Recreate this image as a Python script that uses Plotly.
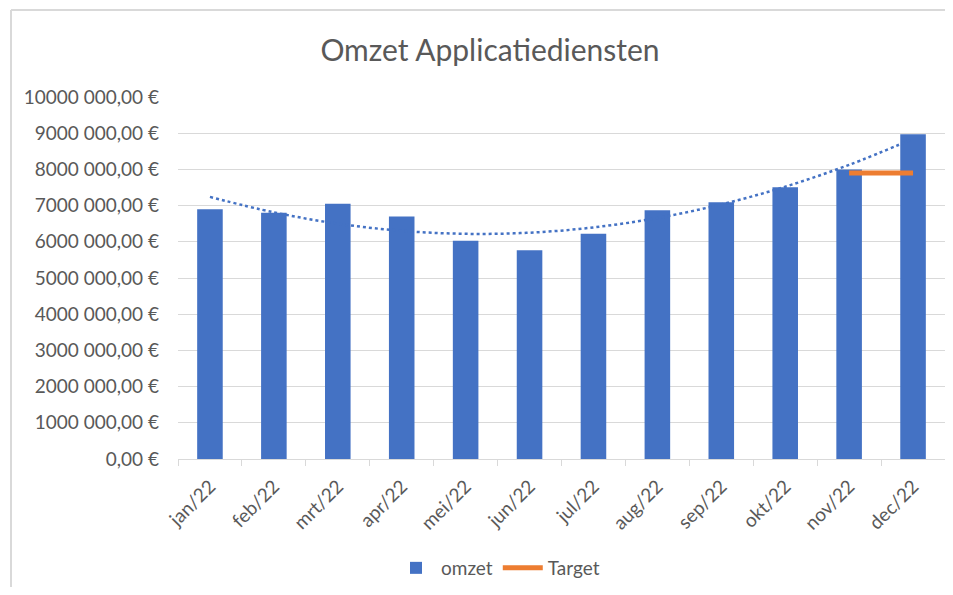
import numpy as np
import plotly.graph_objects as go

months = ["jan/22", "feb/22", "mrt/22", "apr/22", "mei/22", "jun/22",
          "jul/22", "aug/22", "sep/22", "okt/22", "nov/22", "dec/22"]
omzet = [6900000, 6800000, 7050000, 6700000, 6030000, 5770000,
         6220000, 6870000, 7090000, 7510000, 8000000, 8970000]
target = [None, None, None, None, None, None, None, None, None, None, 7900000, 7900000]
tick_vals = [0, 1000000, 2000000, 3000000, 4000000, 5000000,
             6000000, 7000000, 8000000, 9000000, 10000000]
tick_text = ["0,00 €", "1000 000,00 €", "2000 000,00 €", "3000 000,00 €",
             "4000 000,00 €", "5000 000,00 €", "6000 000,00 €", "7000 000,00 €",
             "8000 000,00 €", "9000 000,00 €", "10000 000,00 €"]

# polynomial (order 2) trendline, as Excel computes it from the omzet series
idx = np.arange(len(omzet))
coef = np.polyfit(idx, omzet, 2)
trend = np.polyval(coef, idx)

BLUE = "#4472C4"
ORANGE = "#ED7D31"
GREY = "#595959"
FONT = "Lato, Open Sans, sans-serif"

fig = go.Figure()
fig.add_trace(go.Bar(x=months, y=omzet, name="omzet", marker_color=BLUE,
                     marker_line_width=0))
fig.add_trace(go.Scatter(x=months, y=list(trend), mode="lines", showlegend=False,
                         line=dict(color=BLUE, width=2.5, dash="dot", shape="spline"),
                         hoverinfo="skip"))
fig.add_trace(go.Scatter(x=months, y=target, mode="lines", name="Target",
                         line=dict(color=ORANGE, width=5)))

# page body has an 8px margin, so the figure is drawn 8px in from the window
W, H = 937, 579
L, R, T, B = 170, 0, 89, 128
pw = W - L - R
ph = H - T - B
x_left = (3 - L) / pw
x_right = 1.0
y_top = (H - B - 2) / ph
y_bot = -B / ph

fig.update_layout(
    width=W, height=H,
    margin=dict(l=L, r=R, t=T, b=B),
    paper_bgcolor="white", plot_bgcolor="white",
    font=dict(family=FONT, color=GREY, size=19),
    title=dict(text="Omzet Applicatiediensten", x=482 / W,
               xanchor="center", y=1 - 42 / H, yanchor="middle",
               font=dict(size=30, color=GREY, family=FONT)),
    bargap=0.6,
    showlegend=True,
    legend=dict(orientation="h", x=(490 - L) / pw, xanchor="center",
                y=(H - B - 560) / ph, yanchor="middle",
                font=dict(size=19, color=GREY), itemwidth=40,
                traceorder="normal"),
    shapes=[
        dict(type="line", xref="paper", yref="paper", x0=x_left, x1=x_left,
             y0=y_bot, y1=y_top, line=dict(color="#d9d9d9", width=2)),
        dict(type="line", xref="paper", yref="paper", x0=x_left, x1=x_right,
             y0=y_top, y1=y_top, line=dict(color="#d9d9d9", width=2)),
    ],
)
fig.update_yaxes(range=[0, 10000000], tickvals=tick_vals, ticktext=tick_text,
                 showgrid=True, gridcolor="#d9d9d9", gridwidth=1,
                 zeroline=False, showline=False, ticks="",
                 ticklabelstandoff=18, tickfont=dict(size=19, color=GREY))
fig.update_xaxes(type="category", tickangle=-45, showgrid=False,
                 showline=True, linecolor="#d9d9d9", linewidth=1,
                 ticks="outside", tickson="boundaries", ticklen=6,
                 tickcolor="#d9d9d9", ticklabelstandoff=8,
                 tickfont=dict(size=19, color=GREY))

fig.write_html("out.html")
